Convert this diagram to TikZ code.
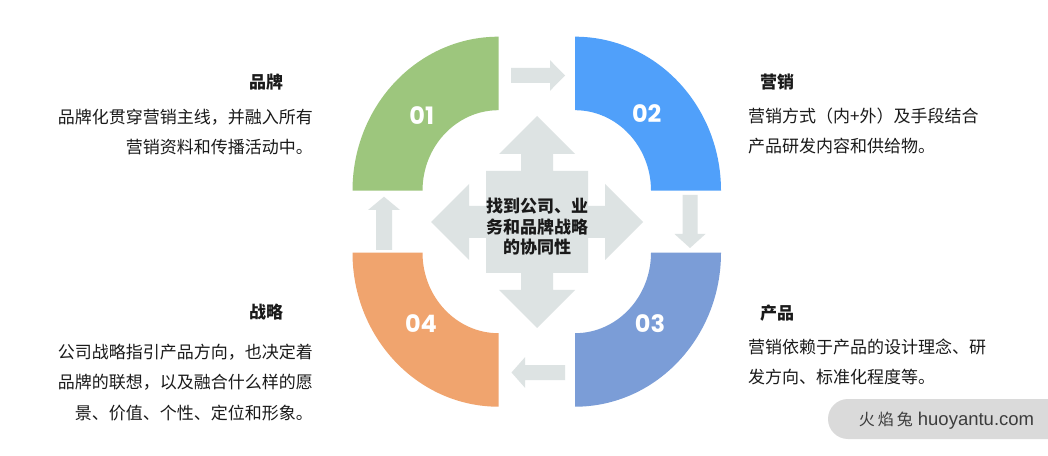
\documentclass[tikz,border=0pt]{standalone}
\usepackage{fontspec}
\setmainfont{Noto Sans CJK SC}
\newfontfamily\numfont{Poppins}
\newfontfamily\wmfont{Liberation Sans}

\definecolor{qgreen}{HTML}{9DC67D}
\definecolor{qblue}{HTML}{50A0FA}
\definecolor{qpurple}{HTML}{7B9DD7}
\definecolor{qorange}{HTML}{F0A46E}
\definecolor{arrowgray}{HTML}{DDE3E3}
\definecolor{txtdark}{HTML}{1A1A1A}
\definecolor{wmgray}{HTML}{DADADA}

\tikzset{
  num/.style={text=white,font=\numfont\bfseries\fontsize{24}{24}\selectfont},
  title/.style={text=txtdark,font=\bfseries\fontsize{17}{20}\selectfont},
  body/.style={text=txtdark,inner sep=0pt,font=\fontsize{17}{30}\selectfont},
}

\begin{document}
\begin{tikzpicture}[x=1pt,y=1pt]
  \fill[white] (0,0) rectangle (1048,455);
  \useasboundingbox (0,0) rectangle (1048,455);
  % four quarter rings
  \fill[qgreen,shift={(498.5,264.3)}] (90:146 and 154)
    arc[start angle=90,end angle=180,x radius=146,y radius=154]
    -- (180:76 and 80.5) arc[start angle=180,end angle=90,x radius=76,y radius=80.5] -- cycle;
  \fill[qblue,shift={(575,264.3)}] (0:146 and 154)
    arc[start angle=0,end angle=90,x radius=146,y radius=154]
    -- (90:76 and 80.5) arc[start angle=90,end angle=0,x radius=76,y radius=80.5] -- cycle;
  \fill[qpurple,shift={(575,202.3)}] (270:146 and 154)
    arc[start angle=270,end angle=360,x radius=146,y radius=154]
    -- (360:76 and 80.5) arc[start angle=360,end angle=270,x radius=76,y radius=80.5] -- cycle;
  \fill[qorange,shift={(498.5,202.3)}] (180:146 and 154)
    arc[start angle=180,end angle=270,x radius=146,y radius=154]
    -- (270:76 and 80.5) arc[start angle=270,end angle=180,x radius=76,y radius=80.5] -- cycle;
  \node[num] (n01) at (421.7,339) {01};
  \node[num] (n02) at (646.7,341.7) {02};
  \node[num] (n03) at (650,131) {03};
  \node[num] (n04) at (421,131) {04};
  % small arrows between the rings
  \fill[arrowgray] (511,372) -- (550,372) -- (550,364.2) -- (565,379.5)
    -- (550,394.8) -- (550,387) -- (511,387) -- cycle;
  \fill[arrowgray] (682.5,260) -- (697.5,260) -- (697.5,221) -- (705.5,221)
    -- (690,207) -- (674.5,221) -- (682.5,221) -- cycle;
  \fill[arrowgray] (565,75) -- (525,75) -- (525,67.2) -- (511.5,82.5)
    -- (525,97.8) -- (525,90) -- (565,90) -- cycle;
  \fill[arrowgray] (376,205) -- (392,205) -- (392,245) -- (400,245)
    -- (384,258.3) -- (368,245) -- (376,245) -- cycle;
  % centre cross arrow
  \fill[arrowgray,shift={(537,233)}] (0,106) -- (38,68) -- (16,68) -- (16,51) -- (51,51)
    -- (51,16) -- (68,16) -- (68,38) -- (106,0) -- (68,-38) -- (68,-16) -- (51,-16)
    -- (51,-51) -- (16,-51) -- (16,-68) -- (38,-68) -- (0,-106) -- (-38,-68) -- (-16,-68)
    -- (-16,-51) -- (-51,-51) -- (-51,-16) -- (-68,-16) -- (-68,-38) -- (-106,0)
    -- (-68,38) -- (-68,16) -- (-51,16) -- (-51,51) -- (-16,51) -- (-16,68) -- (-38,68) -- cycle;
  \node[text=txtdark,align=center,inner sep=0pt,font=\bfseries\fontsize{17}{20.5}\selectfont]
    (core) at (537,228.3) {找到公司、业\\务和品牌战略\\的协同性};
  % texts
  \node[title] (brand) at (266,373) {品牌};
  \node[body,align=right,anchor=east] (brandtxt) at (313,323.3)
    {品牌化贯穿营销主线，并融入所有\\营销资料和传播活动中。};
  \node[title] (market) at (777,373) {营销};
  \node[body,align=left,anchor=west] (markettxt) at (748,323.6)
    {营销方式（内+外）及手段结合\\产品研发内容和供给物。};
  \node[title] (product) at (777,142) {产品};
  \node[body,align=left,anchor=west] (producttxt) at (748,93.3)
    {营销依赖于产品的设计理念、研\\发方向、标准化程度等。};
  \node[title] (strategy) at (266,143.3) {战略};
  \node[body,align=right,anchor=east,font=\fontsize{17}{30.7}\selectfont] (strategytxt) at (313,72.5)
    {公司战略指引产品方向，也决定着\\品牌的联想，以及融合什么样的愿\\景、价值、个性、定位和形象。};
  % watermark
  \fill[wmgray,rounded corners=20] (828,16) rectangle (1080,56);
  \node[text=txtdark!85,inner sep=0pt] (wm) at (946.5,34)
    {\fontsize{16}{16}\selectfont 火\hspace{3pt}焰\hspace{3pt}兔\hspace{5pt}\wmfont\fontsize{18.5}{18}\selectfont huoyantu.com};
\end{tikzpicture}
\end{document}
